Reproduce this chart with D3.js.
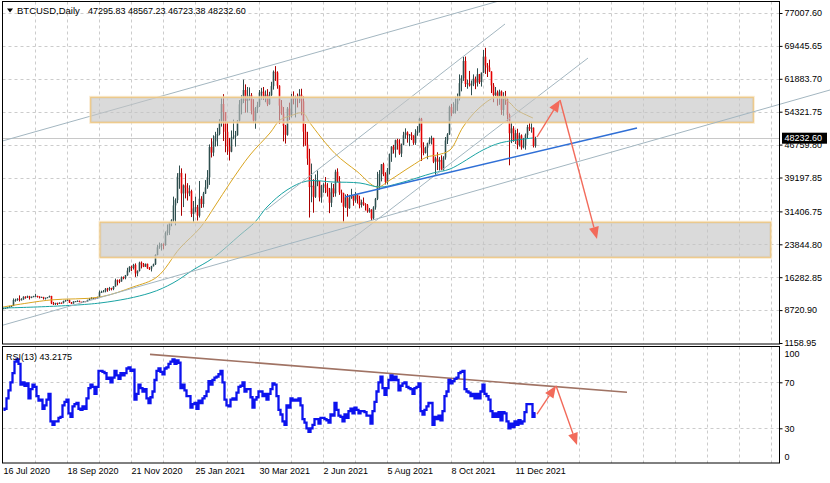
<!DOCTYPE html>
<html lang="en">
<head>
<meta charset="utf-8">
<title>BTCUSD, Daily</title>
<script src="https://cdn.jsdelivr.net/npm/d3@7"></script>
<style>
  body { margin: 0; background: #fff; }
  svg { display: block; font-family: "Liberation Sans", Arial, sans-serif; }
</style>
</head>
<body>
<script>
// ---- data (2-day bars starting 16 Jul 2020, index j = days / 2) ----
var symbolName = "BTCUSD,Daily";
var lastOHLC = [47295.83, 48567.23, 46723.38, 48232.60];
var rsiName = "RSI(13)";
var rsiLast = 43.2175;

var dateLabels = ["16 Jul 2020", "18 Sep 2020", "21 Nov 2020", "25 Jan 2021", "30 Mar 2021",
                  "2 Jun 2021", "5 Aug 2021", "8 Oct 2021", "11 Dec 2021"];
var dateLabelDays = [0, 64, 128, 192, 256, 320, 384, 448, 512];
var priceTicks = [1158.95, 8720.90, 16282.85, 23844.80, 31406.75, 39197.85, 46759.80,
                  54321.75, 61883.70, 69445.65, 77007.60];
var rsiTicks = [0, 30, 70, 100];
var rsiLevels = [30, 70];

var firstOpen = 9130;
var closes = [
  9150,9210,9390,9610,9700,11030,11100,11320,
  11070,11190,11780,11750,11880,11580,11770,11910,11990,11860,11680,11750,11470,11540,11710,
  11970,10250,10170,10370,10240,10400,10330,10790,10940,11080,10420,10240,10690,10770,10840,
  10620,10550,10790,10670,11060,11380,11430,11500,11360,11740,12820,12930,13030,13640,13460,13780,
  13550,14150,15580,15480,15300,16280,16070,16720,17800,18680,18420,19110,17150,17720,19630,
  19200,18700,19360,18320,18260,18800,19250,21380,23150,23480,23820,23730,26440,27080,28840,
  29370,32780,33990,39370,40250,35540,37390,36830,35550,36070,30830,32080,32370,30430,34320,33110,
  35510,36930,39240,46200,44920,47500,48720,49200,51680,56100,54210,49710,46340,45140,
  48380,48560,48910,52250,56010,57330,59300,56800,57860,58100,54530,52300,55120,55780,58730,
  58920,57590,58230,56050,58090,60200,63500,63310,60300,55720,53900,51090,49000,55030,53550,
  57830,57200,57420,57350,58230,56700,49720,46760,43540,37000,37300,34770,38400,38440,34620,37330,
  37580,36830,35800,33400,36700,35550,40520,38350,35790,35600,32510,34660,32160,34430,35040,
  33900,35290,34220,32880,33520,33090,32820,31420,31800,29800,32310,34290,37340,39990,42240,
  39970,38150,40870,44610,46290,45590,47790,47050,44700,46720,48900,49550,48990,49060,48830,47170,
  49330,49950,52700,46080,44850,46050,47090,47780,48310,42840,43570,42840,43210,41030,43790,
  47710,49110,55360,53970,54660,56040,57320,60880,62030,65990,60690,60860,60360,60620,61890,
  61000,62940,61130,63310,66970,64950,64470,63560,60370,58120,58730,57570,58960,54720,57810,
  57230,53600,49370,50470,47590,49390,46700,48860,46130,46680,48940,50780,50430,50640,46440,48232.6
];
var highs = [
  9230,9260,9420,9680,9730,11400,11350,11450,
  12100,11450,11900,11900,12050,12000,11850,12000,12470,12000,11880,11800,11750,11600,11720,
  12050,12000,10600,10400,10420,10500,10480,10900,11080,11160,11080,10580,10760,10800,10950,
  10900,10640,10800,10800,11100,11490,11700,11550,11550,11800,13200,13180,13330,13790,13830,14050,
  13850,14230,15950,15750,15800,16450,16450,16800,18450,18800,18950,19350,19450,17850,19850,
  19900,19550,19420,19400,18600,18900,19400,21550,23750,24250,24100,24050,26800,28400,28950,
  29600,34800,34400,40200,41950,41300,37600,40100,37900,37400,36400,33800,34800,32900,38400,34900,
  35900,38600,40900,46800,48200,48900,49700,50600,52600,57500,58350,54200,52000,48300,
  50000,52500,49900,52400,57000,58100,61700,60600,60000,59900,58600,57200,55400,56600,59300,
  59800,60000,59200,59500,58900,61200,63800,64800,63600,60400,57000,55400,51300,55400,56400,
  58400,59000,58000,58500,59500,59600,57900,51500,49700,45800,42400,38800,39900,40800,38200,37500,
  37900,39300,37900,36800,38000,37700,41000,41300,39500,36400,35700,35300,35400,35200,36600,
  35000,35900,35100,35000,34100,34600,33300,33100,32200,31900,32600,34500,40500,40900,42300,
  42600,40400,41400,44700,46400,46700,47900,48100,48000,47000,49700,50500,49800,49200,49600,48900,
  50300,51000,52900,52900,47300,46300,47200,48400,48800,48300,44000,45000,43900,44300,44100,
  48500,49400,55700,56100,56500,57800,58500,62900,62700,66900,67000,61700,63700,61500,62900,
  62400,64300,63000,63300,68500,69000,65500,66300,63600,60900,60000,59200,59400,59200,58800,
  59100,57400,53900,51900,51000,50100,50400,49500,49100,48300,49300,51300,51800,52000,50700,48567
];
var lows = [
  9050,9100,9140,9300,9480,9650,10650,10850,
  10700,10950,11100,11350,11500,11150,11450,11700,11850,11600,11400,11550,11150,11150,11450,
  11600,10100,9900,9880,9900,10150,10230,10250,10700,10830,10360,10150,10200,10600,10650,
  10520,10400,10500,10550,10650,11050,11250,11280,11230,11350,11700,12700,12850,12800,12950,13150,
  13250,13300,14100,14400,14900,15250,15800,15800,16600,17400,17700,18050,16350,16500,17600,
  18300,18600,18650,18200,17950,17600,18750,19100,21300,22800,22400,22700,23500,25900,26000,
  28000,29000,28200,33300,36600,30400,32400,34400,33900,34900,30100,28900,31200,29300,30000,32200,
  32300,35400,36600,37500,43800,44100,46300,46400,48900,50900,47600,45000,44400,43100,
  45000,48000,46300,48800,51900,53700,56300,54100,54100,56900,53700,51700,50400,54000,55400,
  57100,57000,56500,55600,55900,57900,59400,61400,59600,51500,53600,47500,47000,48800,52400,
  53000,56000,53000,55300,56300,53500,46300,46500,42100,30000,33500,31100,34500,37200,33700,33400,
  35700,35600,34800,31000,32400,34700,34800,38100,35200,33400,28800,32200,30200,32000,34300,
  32700,33400,33200,32100,32300,32700,31600,31100,31100,29300,29500,31800,34000,36400,38300,
  39500,37600,37600,39900,42800,44700,43800,45600,44400,43900,46600,48100,47200,46400,47800,46700,
  46700,48800,49500,43000,44300,44700,43400,46800,46800,42500,39600,40900,40800,40900,40800,
  43300,46900,49000,53300,53900,53900,54500,56900,59000,61400,60000,59600,60100,58100,60200,
  59500,60100,60700,60100,63200,63000,62300,63500,58600,56500,57900,55700,55900,53600,53400,
  55900,52000,42000,47100,47400,46900,45700,46300,45600,45900,45600,48100,49900,49500,46100,46060
];
var rsiValues = [
  46,47,56,63,70,78,88,90,
  86,68,70,67,69,56,64,68,66,58,54,55,47,50,55,
  60,36,33,36,36,39,40,50,53,55,43,40,49,51,52,
  47,46,49,47,56,65,68,66,60,66,80,80,79,78,73,74,
  70,74,80,76,73,78,76,78,82,83,80,81,55,60,68,
  65,62,64,56,52,57,62,72,80,82,79,77,82,83,86,
  88,90,86,89,87,65,68,63,58,58,48,51,52,47,54,52,
  56,58,62,71,68,72,74,75,77,80,70,55,50,49,
  55,56,55,61,66,67,70,62,64,64,57,48,55,57,62,
  62,58,60,55,60,64,69,68,58,46,42,36,33,50,48,
  56,54,55,54,56,50,38,35,30,27,30,33,38,38,34,39,
  39,38,37,35,42,41,52,46,41,40,36,42,39,45,47,
  43,48,46,43,45,45,44,41,41,34,45,53,62,70,75,
  65,59,65,72,76,72,75,72,63,67,69,70,66,65,64,60,
  65,66,69,45,42,46,49,52,52,33,40,38,41,37,45,
  58,62,72,69,71,73,74,78,79,80,64,62,61,58,60,
  56,60,56,62,68,60,58,55,45,40,43,40,44,37,44,
  43,36,30,34,31,36,33,37,34,36,44,51,51,51,40,43.2175
];

// moving averages at a few days each
var maFastDay = [0,47,97,130,154,177,197,212,227,247,267,277,287,300,307,332,354,374,387,407,424,434,447,460,474,490,497,507,514,530];
var maFastVal = [9430,11040,11730,14030,16330,22990,27590,32650,37930,44370,49430,52410,53330,54020,51720,44700,40600,37010,38620,41610,43910,44370,45520,50800,54710,57470,57700,56320,54710,52870];
var maSlowDay = [0,97,147,170,190,210,237,252,264,284,304,330,357,377,397,430,447,480,497,530];
var maSlowVal = [9200,10350,12650,14950,17940,20700,25980,28970,32420,36330,38390,38160,37930,37010,37930,40230,41150,45520,47130,48280];

// drawn objects: [day0, price0, day1, price1]
var channelLines = [
  [-3, 47430, 496, 79770],
  [263, 31730, 502, 74480],
  [345, 24370, 585, 66660]
];
var longSupport = [-3, 5070, 827, 59310];
var blueTrend = [342, 34720, 634, 50580];
// zones: [day0, day1, priceLow, priceHigh]
var zones = [
  [87.7, 750.3, 51885, 57630],
  [97, 767.7, 20856, 28901]
];
var priceArrows = [
  [534, 48506, 557, 57010],
  [557, 57010, 594, 25062]
];
var rsiTrend = [147, 94.3, 624, 61.3];
var rsiArrows = [
  [534, 42.4, 553, 67],
  [553, 67, 574, 15.5]
];

// ---- layout ----
var W = 830, H = 483;
var main = { x0: 2.5, x1: 779.5, y0: 1.5, y1: 344 };
var sub = { x0: 2.5, x1: 779.5, y0: 346.5, y1: 463 };

var xDay = d3.scaleLinear().domain([0, 776]).range([3, 779]);
var yPrice = d3.scaleLinear().domain([1158.95, 77007.60]).range([343, 13]);
var yRsi = d3.scaleLinear().domain([0, 100]).range([462.8, 347.8]);

var upColor = "#2f4f4f", downBody = "#e60000", downWick = "#a80000";
var gridColor = "#cccccc", lineGray = "#a3b6c0", arrowColor = "#f26a5a";

var svg = d3.select("body").append("svg").attr("width", W).attr("height", H);
svg.append("rect").attr("width", W).attr("height", H).attr("fill", "#fff");

var defs = svg.append("defs");
defs.append("clipPath").attr("id", "clip-main").append("rect")
  .attr("x", main.x0).attr("y", main.y0).attr("width", main.x1 - main.x0).attr("height", main.y1 - main.y0);
defs.append("clipPath").attr("id", "clip-wide").append("rect")
  .attr("x", main.x0).attr("y", main.y0).attr("width", W - main.x0).attr("height", main.y1 - main.y0);
defs.append("clipPath").attr("id", "clip-sub").append("rect")
  .attr("x", sub.x0).attr("y", sub.y0).attr("width", sub.x1 - sub.x0).attr("height", sub.y1 - sub.y0);

// ---- grid ----
var gridDays = d3.range(32, 769, 32);
var grid = svg.append("g").attr("stroke", gridColor).attr("stroke-dasharray", "3,3").attr("stroke-width", 1);
grid.selectAll(".vg").data(gridDays).join("line")
  .attr("x1", d => Math.round(xDay(d)) + 0.5).attr("x2", d => Math.round(xDay(d)) + 0.5)
  .attr("y1", main.y0).attr("y2", main.y1);
grid.selectAll(".vs").data(gridDays).join("line")
  .attr("x1", d => Math.round(xDay(d)) + 0.5).attr("x2", d => Math.round(xDay(d)) + 0.5)
  .attr("y1", sub.y0).attr("y2", sub.y1);
grid.selectAll(".hg").data(priceTicks.slice(1)).join("line")
  .attr("x1", main.x0).attr("x2", main.x1)
  .attr("y1", d => Math.round(yPrice(d)) + 0.5).attr("y2", d => Math.round(yPrice(d)) + 0.5);
grid.selectAll(".hs").data(rsiLevels).join("line")
  .attr("x1", sub.x0).attr("x2", sub.x1)
  .attr("y1", d => Math.round(yRsi(d)) + 0.5).attr("y2", d => Math.round(yRsi(d)) + 0.5);

// ---- main chart ----
var mainG = svg.append("g").attr("clip-path", "url(#clip-main)");

// last price line
mainG.append("line")
  .attr("x1", main.x0).attr("x2", main.x1)
  .attr("y1", Math.round(yPrice(lastOHLC[3])) + 0.5).attr("y2", Math.round(yPrice(lastOHLC[3])) + 0.5)
  .attr("stroke", "#c8c8c8");

var bars = closes.map(function(c, j) {
  return { j: j, o: j ? closes[j - 1] : firstOpen, c: c, h: highs[j], l: lows[j] };
});
function isUp(d) { return d.c >= d.o; }

mainG.selectAll(".wick").data(bars).join("line")
  .attr("x1", d => xDay(2 * d.j) + 0.5).attr("x2", d => xDay(2 * d.j) + 0.5)
  .attr("y1", d => yPrice(d.h)).attr("y2", d => yPrice(d.l))
  .attr("stroke", d => isUp(d) ? upColor : downWick).attr("stroke-width", 1);
mainG.selectAll(".body").data(bars).join("rect")
  .attr("x", d => xDay(2 * d.j) - 0.3).attr("width", 1.6)
  .attr("y", d => yPrice(Math.max(d.o, d.c)))
  .attr("height", d => Math.max(1, Math.abs(yPrice(d.o) - yPrice(d.c))))
  .attr("fill", d => isUp(d) ? upColor : downBody);

// moving averages
var maLine = d3.line().curve(d3.curveCatmullRom.alpha(0.5));
mainG.append("path")
  .attr("d", maLine(maFastDay.map((d, i) => [xDay(d), yPrice(maFastVal[i])])))
  .attr("fill", "none").attr("stroke", "#d9a521").attr("stroke-width", 1);
mainG.append("path")
  .attr("d", maLine(maSlowDay.map((d, i) => [xDay(d), yPrice(maSlowVal[i])])))
  .attr("fill", "none").attr("stroke", "#1aa3a3").attr("stroke-width", 1);

// trend lines
mainG.selectAll(".chan").data(channelLines).join("line")
  .attr("x1", d => xDay(d[0])).attr("y1", d => yPrice(d[1]))
  .attr("x2", d => xDay(d[2])).attr("y2", d => yPrice(d[3]))
  .attr("stroke", lineGray).attr("stroke-width", 1);
svg.append("line").attr("clip-path", "url(#clip-wide)")
  .attr("x1", xDay(longSupport[0])).attr("y1", yPrice(longSupport[1]))
  .attr("x2", xDay(longSupport[2])).attr("y2", yPrice(longSupport[3]))
  .attr("stroke", lineGray).attr("stroke-width", 1);
mainG.append("line")
  .attr("x1", xDay(blueTrend[0])).attr("y1", yPrice(blueTrend[1]))
  .attr("x2", xDay(blueTrend[2])).attr("y2", yPrice(blueTrend[3]))
  .attr("stroke", "#2f6fd6").attr("stroke-width", 1.6);

// zones
var zoneG = mainG.append("g");
zoneG.selectAll(".zoneGlow").data(zones).join("rect")
  .attr("x", d => xDay(d[0])).attr("width", d => xDay(d[1]) - xDay(d[0]))
  .attr("y", d => yPrice(d[3])).attr("height", d => yPrice(d[2]) - yPrice(d[3]))
  .attr("fill", "none").attr("stroke", "#f6e2bd").attr("stroke-width", 3).attr("stroke-opacity", 0.7);
zoneG.selectAll(".zone").data(zones).join("rect")
  .attr("x", d => xDay(d[0])).attr("width", d => xDay(d[1]) - xDay(d[0]))
  .attr("y", d => yPrice(d[3])).attr("height", d => yPrice(d[2]) - yPrice(d[3]))
  .attr("fill", "#c4c4c4").attr("fill-opacity", 0.62)
  .attr("stroke", "#eec57e").attr("stroke-width", 1);

// arrows
function drawArrow(g, x0, y0, x1, y1) {
  var a = Math.atan2(y1 - y0, x1 - x0), len = 12, hw = 5;
  var bx = x1 - len * Math.cos(a), by = y1 - len * Math.sin(a);
  g.append("line").attr("x1", x0).attr("y1", y0).attr("x2", bx).attr("y2", by)
    .attr("stroke", arrowColor).attr("stroke-width", 1.4);
  g.append("path")
    .attr("d", "M" + x1 + "," + y1 +
      "L" + (bx - hw * Math.sin(a)) + "," + (by + hw * Math.cos(a)) +
      "L" + (bx + hw * Math.sin(a)) + "," + (by - hw * Math.cos(a)) + "Z")
    .attr("fill", arrowColor);
}
priceArrows.forEach(function(d) {
  drawArrow(mainG, xDay(d[0]), yPrice(d[1]), xDay(d[2]), yPrice(d[3]));
});

// ---- RSI panel ----
var subG = svg.append("g").attr("clip-path", "url(#clip-sub)");
subG.append("line")
  .attr("x1", xDay(rsiTrend[0])).attr("y1", yRsi(rsiTrend[1]))
  .attr("x2", xDay(rsiTrend[2])).attr("y2", yRsi(rsiTrend[3]))
  .attr("stroke", "#a07364").attr("stroke-width", 1.6);
subG.append("path")
  .attr("d", d3.line().curve(d3.curveStep)
    .x((d, j) => xDay(2 * j) + 0.5).y(d => yRsi(d))(rsiValues))
  .attr("fill", "none").attr("stroke", "#0c12ee").attr("stroke-width", 2.3);
rsiArrows.forEach(function(d) {
  drawArrow(subG, xDay(d[0]), yRsi(d[1]), xDay(d[2]), yRsi(d[3]));
});

// ---- frames ----
svg.append("rect").attr("x", main.x0).attr("y", main.y0)
  .attr("width", main.x1 - main.x0).attr("height", main.y1 - main.y0)
  .attr("fill", "none").attr("stroke", "#000");
svg.append("rect").attr("x", sub.x0).attr("y", sub.y0)
  .attr("width", sub.x1 - sub.x0).attr("height", sub.y1 - sub.y0)
  .attr("fill", "none").attr("stroke", "#000");

// ---- axes ----
var pAxis = svg.append("g").attr("transform", "translate(" + main.x1 + ",0)")
  .call(d3.axisRight(yPrice).tickValues(priceTicks).tickSize(3).tickPadding(2)
    .tickFormat(d3.format(".2f")));
pAxis.select(".domain").remove();
pAxis.selectAll("text").attr("font-size", 9).attr("font-family", "Liberation Sans, Arial").attr("fill", "#000");
pAxis.selectAll("line").attr("stroke", "#000");

// last price tag (covers part of the tick label below it, as in the terminal)
var tagY = yPrice(lastOHLC[3]);
svg.append("rect").attr("x", main.x1 + 2.5).attr("y", tagY - 5.5)
  .attr("width", 45).attr("height", 11).attr("fill", "#000");
svg.append("text").attr("x", main.x1 + 5).attr("y", tagY).attr("dy", "0.34em")
  .attr("font-size", 9).attr("fill", "#fff").text(d3.format(".2f")(lastOHLC[3]));

var rAxis = svg.append("g").attr("transform", "translate(" + sub.x1 + ",0)")
  .call(d3.axisRight(yRsi).tickValues(rsiTicks).tickSize(3).tickPadding(2).tickFormat(d3.format("d")));
rAxis.select(".domain").remove();
rAxis.selectAll("text").attr("font-size", 9).attr("font-family", "Liberation Sans, Arial").attr("fill", "#000");
rAxis.selectAll("line").attr("stroke", "#000");
// MT4 keeps the end labels inside the panel
rAxis.selectAll(".tick").filter(d => d === 100).select("text").attr("dy", "1.0em");
rAxis.selectAll(".tick").filter(d => d === 0).select("text").attr("dy", "-0.4em");
rAxis.selectAll(".tick").filter(d => d === 0 || d === 100).select("line").remove();

var tAxis = svg.append("g").attr("transform", "translate(0," + sub.y1 + ")")
  .call(d3.axisBottom(xDay).tickValues(dateLabelDays).tickSize(0).tickPadding(5)
    .tickFormat((d, i) => dateLabels[i]));
tAxis.select(".domain").remove();
tAxis.selectAll("text").attr("text-anchor", "start").attr("font-size", 9)
  .attr("font-family", "Liberation Sans, Arial").attr("fill", "#000");

// ---- titles ----
svg.append("path").attr("d", "M7,8.5L13,8.5L10,12.5Z").attr("fill", "#000");
svg.append("text").attr("x", 17).attr("y", 14).attr("font-size", 9.5).attr("fill", "#000")
  .text(symbolName);
svg.append("text").attr("x", 88).attr("y", 14).attr("font-size", 9).attr("fill", "#000")
  .style("white-space", "pre")
  .text(lastOHLC.map(d3.format(".2f")).join(" "));
svg.append("text").attr("x", 6).attr("y", 359.5).attr("font-size", 9).attr("fill", "#000")
  .text(rsiName + " " + rsiLast);
</script>
</body>
</html>
